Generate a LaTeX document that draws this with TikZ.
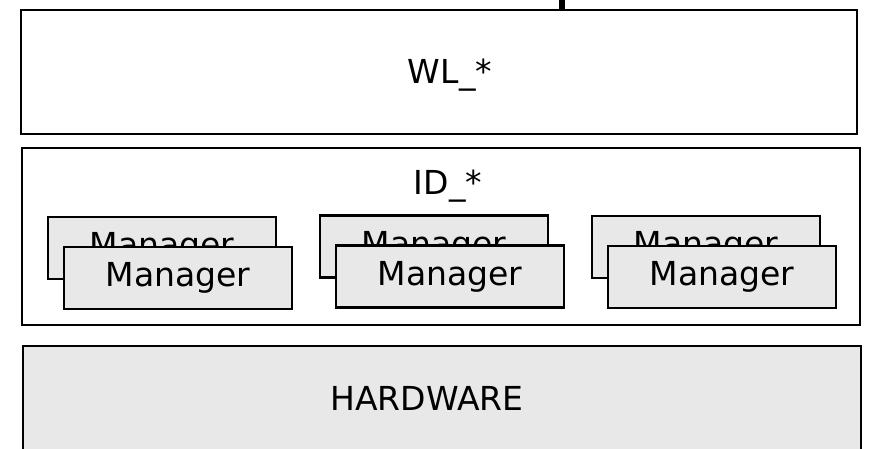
\documentclass[tikz,border=0pt]{standalone}
\usepackage{fontspec}
\setmainfont{DejaVu Sans}
\definecolor{boxgray}{HTML}{E8E8E8}

\begin{document}
\begin{tikzpicture}[x=0.02cm, y=-0.02cm,
	layer/.style={draw=black, line width=1.4pt, inner sep=0pt},
	mgr/.style={draw=black, line width=1.4pt, fill=boxgray, inner sep=0pt,
		minimum width=4.56cm, minimum height=1.24cm, font=\fontsize{18.8}{20}\selectfont},
	lbl/.style={anchor=base, font=\fontsize{18.8}{20}\selectfont}]

\useasboundingbox (0,0) rectangle (869,449);

% the three layers
\node[layer, minimum width=16.72cm, minimum height=2.48cm] (wl) at (439,72) {};
\node[layer, minimum width=16.76cm, minimum height=3.54cm] (id) at (441,236.5) {};
\node[layer, fill=boxgray, minimum width=16.76cm, minimum height=2.48cm] (hw) at (442,408) {};

\node[lbl] (wltext) at (450,84) {WL\_*};
\node[lbl] (idtext) at (448,195) {ID\_*};
\node[lbl] (hwtext) at (427,410) {HARDWARE};

% stacked managers
\foreach \x/\y [count=\i] in {162/248, 434/246.5, 706/247}{
	\node[mgr] (back\i) at (\x,\y) {Manager};
	\node[mgr] (front\i) at (\x+16,\y+30) {Manager};
}

\coordinate (feed) at (562,0);
\draw[line width=3.2pt] (feed) -- (feed |- wl.north);

\end{tikzpicture}
\end{document}
